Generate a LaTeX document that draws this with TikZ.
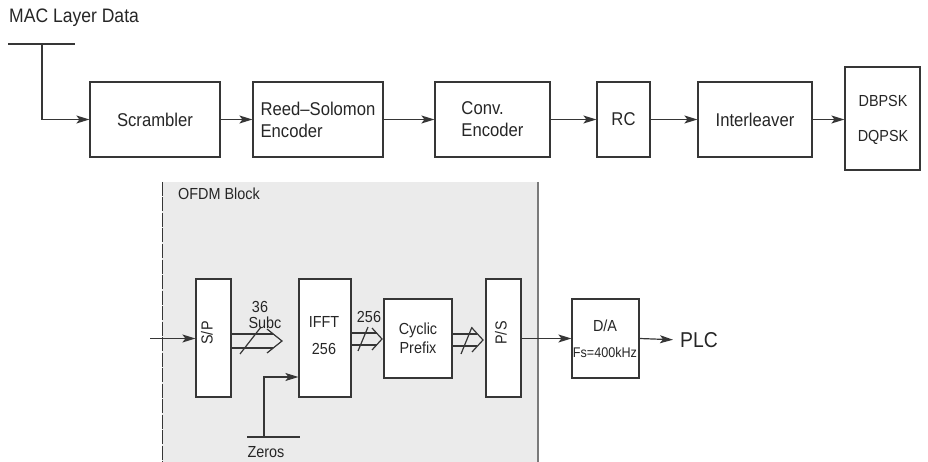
\documentclass[tikz,border=0pt]{standalone}
\usepackage{fontspec}
\setmainfont{Liberation Sans}[FakeStretch=0.9]
\usetikzlibrary{arrows.meta}
\definecolor{ink}{HTML}{363636}
\definecolor{txt}{HTML}{262626}
\definecolor{ofdmgray}{HTML}{EBEBEB}
\definecolor{edgegray}{HTML}{7A7A7A}
\tikzset{
  line/.style={draw=ink, line width=1.2pt},
  arr/.style={line, -{Stealth[length=13pt,width=8pt,inset=3pt]}},
  blk/.style={line, fill=white, rectangle, inner sep=0pt, text=txt},
  big/.style={font=\fontsize{18.5}{22}\selectfont},
  mid/.style={font=\fontsize{16}{19}\selectfont},
  small/.style={font=\fontsize{14}{17}\selectfont},
  lbl/.style={text=txt, inner sep=0pt}
}
\begin{document}
\begin{tikzpicture}[x=1pt,y=-1pt]
\useasboundingbox (0,0) rectangle (928,462);
% OFDM region
\fill[ofdmgray] (162,182) rectangle (538,462);
\draw[draw=ink, line width=0.9pt, dash pattern=on 14pt off 1.5pt] (162,182) -- (162,462);
\draw[draw=edgegray, line width=1.8pt] (538,182) -- (538,462);
\node[lbl, mid, anchor=west] (ofdm) at (178,194) {OFDM Block};

% top row
\node[lbl, font=\fontsize{19.5}{23}\selectfont, anchor=west] (mac) at (9,18) {MAC Layer Data};
\coordinate (macl) at (8,44);
\coordinate (macr) at (75,44);
\coordinate (macj) at (42,44);
\draw[line] (macl) -- (macr);

\node[blk, big, minimum width=130pt, minimum height=75pt] (scr) at (155,119.5) {Scrambler};
\node[blk, big, minimum width=130pt, minimum height=75pt, align=left] (rs) at (318,119.5) {Reed–Solomon\\Encoder};
\node[blk, big, minimum width=115pt, minimum height=75pt, align=left] (conv) at (492.5,119.5) {Conv.\\Encoder};
\node[blk, big, minimum width=53pt, minimum height=75pt] (rc) at (623.5,119.5) {RC};
\node[blk, big, minimum width=114pt, minimum height=75pt] (il) at (755,119.5) {Interleaver};
\node[blk, minimum width=75pt, minimum height=103pt] (mod) at (882.5,118.5) {};
\node[lbl, mid] (dbpsk) at (883,101) {DBPSK};
\node[lbl, mid] (dqpsk) at (883,137) {DQPSK};

\draw[arr] (macj) |- (scr.west);
\draw[arr] (scr.east) -- (rs.west);
\draw[arr] (rs.east) -- (conv.west);
\draw[arr] (conv.east) -- (rc.west);
\draw[arr] (rc.east) -- (il.west);
\draw[arr] (il.east) -- (il.east -| mod.west);

% bottom row
\node[blk, minimum width=35pt, minimum height=118pt] (sp) at (213.5,338) {};
\node[lbl, mid, rotate=90] (sptxt) at (207,333) {S/P};
\node[blk, minimum width=52pt, minimum height=118pt] (ifft) at (325,338) {};
\node[lbl, mid] (iffta) at (324,322) {IFFT};
\node[lbl, mid] (ifftb) at (324,349) {256};
\node[blk, mid, minimum width=68pt, minimum height=79pt, align=center] (cp) at (418,338.5) {Cyclic\\Prefix};
\node[blk, minimum width=35pt, minimum height=118pt] (ps) at (503.5,338) {};
\node[lbl, mid, rotate=90] (pstxt) at (501,333) {P/S};
\node[blk, minimum width=67pt, minimum height=79pt] (da) at (605.5,338.5) {};
\node[lbl, mid] (datxt) at (605,326) {D/A};
\node[lbl, small] (fs) at (605,352) {Fs=400kHz};
\node[lbl, font=\fontsize{21.5}{25}\selectfont, anchor=west] (plc) at (680,340) {PLC};

\coordinate (in) at (150,338.5);
\draw[arr] (in) -- (in -| sp.west);
\draw[arr] (ps.east |- 0,338.5) -- (da.west);
\draw[arr, shorten >=7pt] (da.east) -- (plc.west);

% bus 1: S/P -> IFFT
\draw[line] (sp.east |- 0,334) -- (273,334);
\draw[line] (sp.east |- 0,348) -- (273,348);
\draw[line] (267,329) -- (282,341) -- (267,353);
\draw[line] (240,354) -- (261,327);
\node[lbl, mid] (n36) at (260,307) {36};
\node[lbl, mid] (subc) at (265,323) {Subc};

% bus 2: IFFT -> CP
\draw[line] (ifft.east |- 0,333) -- (376.5,333);
\draw[line] (ifft.east |- 0,345) -- (376.5,345);
\draw[line] (372,328) -- (382,339) -- (372,350);
\draw[line] (358,351) -- (368,327);
\node[lbl, mid] (n256) at (369,317) {256};

% bus 3: CP -> P/S
\draw[line] (cp.east |- 0,334) -- (477,334);
\draw[line] (cp.east |- 0,346) -- (477,346);
\draw[line] (472,328) -- (483,340) -- (472,352);
\draw[line] (461,354) -- (472,327);

% zeros
\coordinate (zl) at (247,437);
\coordinate (zr) at (300,437);
\coordinate (zj) at (264,437);
\draw[line] (zl) -- (zr);
\draw[arr] (zj) |- ([yshift=-39pt]ifft.west);
\node[lbl, mid] (zeros) at (266,452) {Zeros};
\end{tikzpicture}
\end{document}
